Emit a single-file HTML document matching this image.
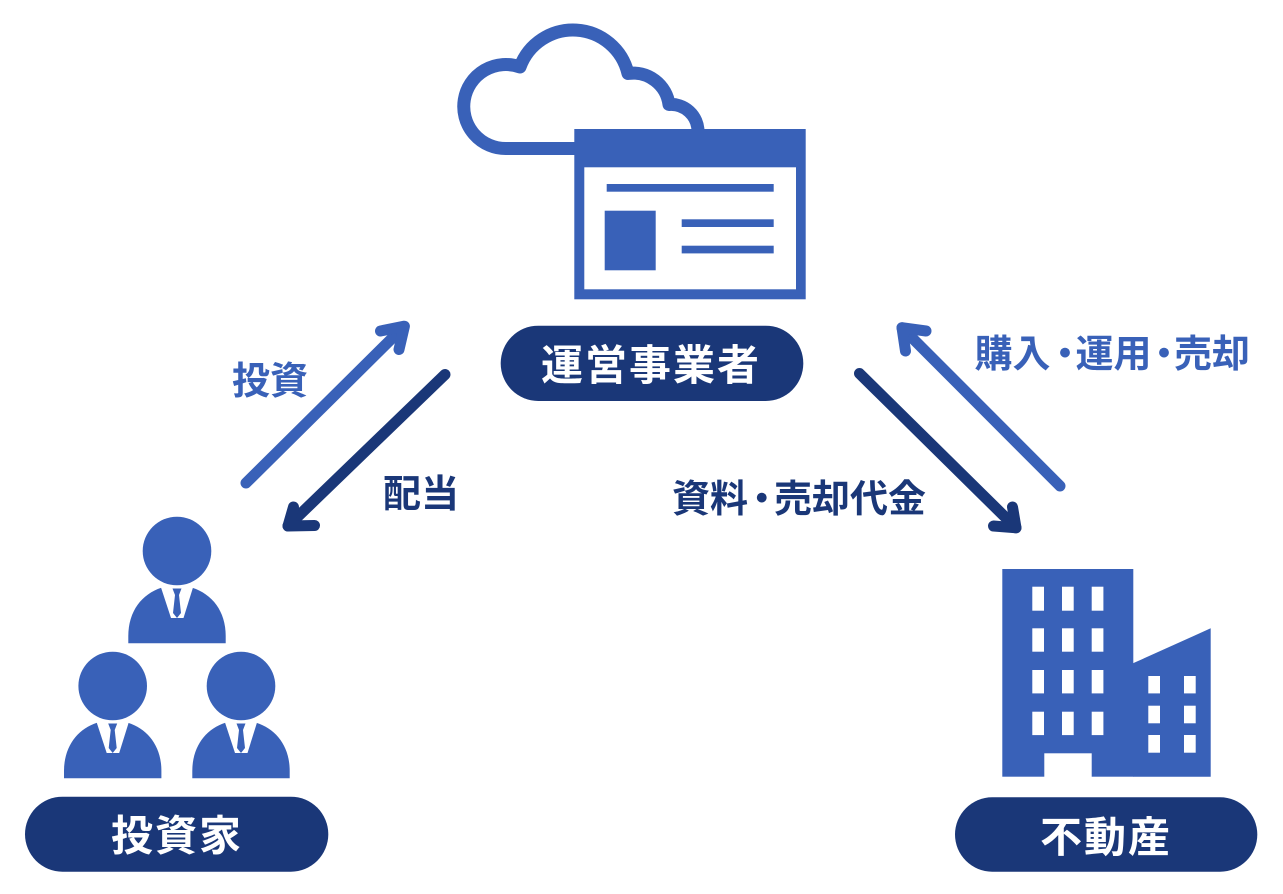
<!DOCTYPE html>
<html>
<head>
<meta charset="utf-8">
<style>
html,body{margin:0;padding:0;background:#fff;}
svg{display:block;}
text{font-family:"Liberation Sans","Noto Sans CJK JP",sans-serif;font-weight:bold;}
</style>
</head>
<body>
<svg width="1283" height="894" viewBox="0 0 1283 894" xmlns="http://www.w3.org/2000/svg">
<rect width="1283" height="894" fill="#fff"/>

<!-- Cloud -->
<path d="M 585 148.5 L 506.5 148.5 A 42 42 0 1 1 520 67 A 56.5 56.5 0 0 1 628 73.5 A 36 36 0 0 1 669 104.5 A 27 27 0 0 1 698 131 L 698 140" fill="none" stroke="#3961b8" stroke-width="13" stroke-linejoin="round"/>

<!-- Browser window -->
<rect x="574.3" y="129" width="231.4" height="170.3" fill="#3961b8"/>
<rect x="584.3" y="167.3" width="211.7" height="122" fill="#fff"/>
<rect x="606.7" y="184" width="167" height="7.7" fill="#3961b8"/>
<rect x="604.7" y="210.7" width="51" height="59.6" fill="#3961b8"/>
<rect x="681.7" y="219.3" width="92" height="7.7" fill="#3961b8"/>
<rect x="681.7" y="245.7" width="92" height="7.7" fill="#3961b8"/>

<!-- Center pill -->
<rect x="500.7" y="325.7" width="302.6" height="75.3" rx="37.6" fill="#1a3778"/>
<text x="651" y="380" font-size="42" fill="#fff" text-anchor="middle" letter-spacing="2">運営事業者</text>

<!-- Arrows left -->
<g fill="none" stroke-width="11" stroke-linecap="round" stroke-linejoin="round">
  <line x1="246" y1="483" x2="404" y2="326.5" stroke="#3961b8"/>
  <polyline points="380.5,331 404.4,326.2 399,349.5" stroke="#3961b8"/>
  <line x1="445" y1="374.5" x2="288" y2="526" stroke="#1a3778"/>
  <polyline points="293.5,507 288,526 314.5,525.5" stroke="#1a3778"/>

  <line x1="859.5" y1="373.5" x2="1016" y2="527.8" stroke="#1a3778"/>
  <polyline points="1012.5,507 1016,527.8 993.5,526" stroke="#1a3778"/>
  <line x1="1060" y1="486" x2="902" y2="327.7" stroke="#3961b8"/>
  <polyline points="926,331 902,327.7 905.5,351" stroke="#3961b8"/>
</g>

<!-- Labels -->
<text x="270" y="394" font-size="38" fill="#3961b8" text-anchor="middle">投資</text>
<text x="421" y="507" font-size="38" fill="#1a3778" text-anchor="middle">配当</text>

<text x="710" y="512" font-size="38" fill="#1a3778" text-anchor="middle">資料</text>
<text x="761.7" y="512" font-size="38" fill="#1a3778" text-anchor="middle">・</text>
<text x="850" y="512" font-size="38" fill="#1a3778" text-anchor="middle">売却代金</text>

<text x="1012.5" y="367" font-size="38" fill="#3961b8" text-anchor="middle">購入</text>
<text x="1065" y="367" font-size="38" fill="#3961b8" text-anchor="middle">・</text>
<text x="1113.5" y="367" font-size="38" fill="#3961b8" text-anchor="middle">運用</text>
<text x="1164" y="367" font-size="38" fill="#3961b8" text-anchor="middle">・</text>
<text x="1212" y="367" font-size="38" fill="#3961b8" text-anchor="middle">売却</text>

<!-- Persons -->
<defs>
  <g id="person">
    <circle cx="0" cy="0" r="34.3" fill="#3961b8"/>
    <path d="M -48.7 92.3 L -48.7 85 C -48.7 60 -35 43 -15.7 36.7 L 15.3 36.7 C 35 43 48.7 60 48.7 85 L 48.7 92.3 Z" fill="#3961b8"/>
    <polygon points="-16,36.5 16,36.5 6.5,67 -6,67" fill="#fff"/>
    <polygon points="-4.5,37.5 4.5,37.5 2,44 4,62 0,67 -4,62 -2,44" fill="#3961b8"/>
  </g>
</defs>
<use href="#person" x="177" y="551"/>
<use href="#person" x="112.7" y="686"/>
<use href="#person" x="241" y="686"/>

<!-- Investor pill -->
<rect x="25" y="796.7" width="303.3" height="75" rx="37.5" fill="#1a3778"/>
<text x="177" y="850.5" font-size="42" fill="#fff" text-anchor="middle" letter-spacing="2">投資家</text>

<!-- Building -->
<rect x="1002.3" y="569" width="131" height="207.7" fill="#3961b8"/>
<polygon points="1133,663.3 1210.7,628.3 1210.7,776.7 1133,776.7" fill="#3961b8"/>
<rect x="1044.3" y="753.3" width="47.4" height="24" fill="#fff"/>
<g fill="#fff">
  <rect x="1032.3" y="586.7" width="11.7" height="24"/>
  <rect x="1062" y="586.7" width="11.7" height="24"/>
  <rect x="1091.7" y="586.7" width="11.7" height="24"/>
  <rect x="1032.3" y="628.3" width="11.7" height="23.4"/>
  <rect x="1062" y="628.3" width="11.7" height="23.4"/>
  <rect x="1091.7" y="628.3" width="11.7" height="23.4"/>
  <rect x="1032.3" y="670" width="11.7" height="23.4"/>
  <rect x="1062" y="670" width="11.7" height="23.4"/>
  <rect x="1091.7" y="670" width="11.7" height="23.4"/>
  <rect x="1032.3" y="711.7" width="11.7" height="23.4"/>
  <rect x="1062" y="711.7" width="11.7" height="23.4"/>
  <rect x="1091.7" y="711.7" width="11.7" height="23.4"/>

  <rect x="1148.3" y="676" width="11.7" height="17.4"/>
  <rect x="1184" y="676" width="11.7" height="17.4"/>
  <rect x="1148.3" y="705.7" width="11.7" height="17.6"/>
  <rect x="1184" y="705.7" width="11.7" height="17.6"/>
  <rect x="1148.3" y="735" width="11.7" height="17.7"/>
  <rect x="1184" y="735" width="11.7" height="17.7"/>
</g>

<!-- Real estate pill -->
<rect x="955" y="797.3" width="302.3" height="74.4" rx="37.2" fill="#1a3778"/>
<text x="1106" y="852" font-size="42" fill="#fff" text-anchor="middle" letter-spacing="2">不動産</text>
</svg>
</body>
</html>
